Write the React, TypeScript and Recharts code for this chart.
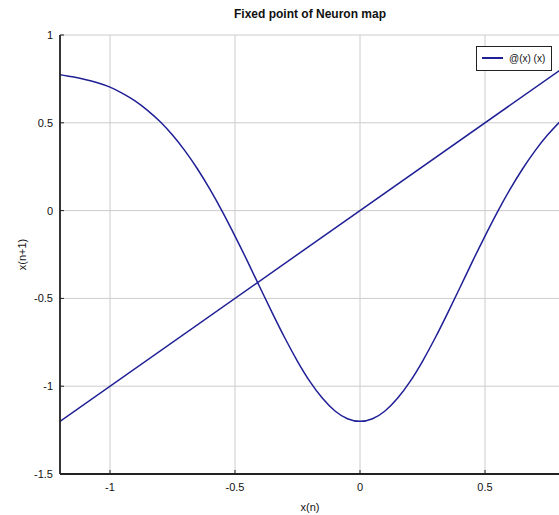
import { LineChart, Line, XAxis, YAxis, CartesianGrid, Legend, Label } from 'recharts'

// x(n) samples of the neuron map (step 0.05) and the matching x(n+1) values
const mapX = [
  -1.2, -1.15, -1.1, -1.05, -1.0, -0.95, -0.9, -0.85, -0.8, -0.75, -0.7, -0.65, -0.6, -0.55,
  -0.5, -0.45, -0.4, -0.35, -0.3, -0.25, -0.2, -0.15, -0.1, -0.05, 0, 0.05, 0.1, 0.15, 0.2,
  0.25, 0.3, 0.35, 0.4, 0.45, 0.5, 0.55, 0.6, 0.65, 0.7, 0.75, 0.8,
]
const mapY = [
  0.774, 0.762, 0.747, 0.728, 0.703, 0.668, 0.625, 0.571, 0.507, 0.43, 0.34, 0.237, 0.121,
  -0.007, -0.145, -0.289, -0.438, -0.585, -0.727, -0.858, -0.974, -1.069, -1.141, -1.185, -1.2,
  -1.185, -1.141, -1.069, -0.974, -0.858, -0.727, -0.585, -0.438, -0.289, -0.145, -0.007,
  0.121, 0.237, 0.34, 0.43, 0.507,
]

// identity line x(n+1) = x(n)
const diagX = [-1.2, 0.8]
const diagY = [-1.2, 0.8]

const xTicks = [-1, -0.5, 0, 0.5]
const yTicks = [-1.5, -1, -0.5, 0, 0.5, 1]

const LINE = '#1f1f96'
const AXIS = '#222'
const GRID = '#cccccc'
const FONT = '"Liberation Sans", Arial, Helvetica, sans-serif'

const mapData = mapX.map((x, i) => ({ x, y: mapY[i] }))
const diagData = diagX.map((x, i) => ({ x, y: diagY[i] }))

function LegendBox({ payload }: any) {
  const items = (payload ?? []).filter((p: any) => p.type !== 'none')
  return (
    <div style={{
      border: `1px solid ${AXIS}`, background: '#fff', padding: '6px 6px 6px 5px',
      display: 'inline-block', fontFamily: FONT, fontSize: 10, color: '#111', lineHeight: '11px',
    }}>
      {items.map((p: any) => (
        <div key={p.value} style={{ display: 'flex', alignItems: 'center', gap: 6 }}>
          <span style={{ width: 21, height: 2, background: p.color, display: 'inline-block' }} />
          <span>{p.value}</span>
        </div>
      ))}
    </div>
  )
}

export default function App() {
  return (
    <div style={{ position: 'absolute', top: 0, left: 0, width: 559, height: 515, overflow: 'hidden', background: '#fff' }}>
      <div style={{
        position: 'absolute', top: 7, left: 60, width: 500, textAlign: 'center',
        fontFamily: FONT, fontWeight: 'bold', fontSize: 12, lineHeight: '14px', color: '#111',
      }}>
        Fixed point of Neuron map
      </div>
      <LineChart width={561} height={515} margin={{ top: 35, right: 1, left: 0, bottom: 0 }}
        style={{ fontFamily: FONT }}>
        <CartesianGrid stroke={GRID} strokeWidth={1} />
        <XAxis type="number" dataKey="x" domain={[-1.2, 0.8]} ticks={xTicks} allowDataOverflow
          interval={0} height={41} axisLine={{ stroke: AXIS, strokeWidth: 1.8 }}
          tickLine={{ stroke: AXIS }} tickSize={-4} tickMargin={13}
          tick={{ fill: '#111', fontSize: 11, fontFamily: FONT }}>
          <Label value="x(n)" position="insideBottom" offset={4}
            style={{ fontSize: 11, fill: '#111', fontFamily: FONT }} />
        </XAxis>
        <XAxis xAxisId="top" orientation="top" type="number" dataKey="x" domain={[-1.2, 0.8]}
          ticks={xTicks} allowDataOverflow interval={0} height={0} tick={false}
          axisLine={{ stroke: AXIS, strokeWidth: 1.8 }} tickLine={{ stroke: AXIS }} tickSize={-4} />
        <YAxis type="number" dataKey="y" domain={[-1.5, 1]} ticks={yTicks} allowDataOverflow
          interval={0} width={60} axisLine={{ stroke: AXIS, strokeWidth: 1.8 }}
          tickLine={{ stroke: AXIS }} tickSize={-4} tickMargin={11}
          tick={{ fill: '#111', fontSize: 11, fontFamily: FONT }}>
          <Label value="x(n+1)" angle={-90} position="insideLeft" offset={22}
            style={{ textAnchor: 'middle', fontSize: 11, fill: '#111', fontFamily: FONT }} />
        </YAxis>
        <YAxis yAxisId="right" orientation="right" type="number" dataKey="y" domain={[-1.5, 1]}
          ticks={yTicks} allowDataOverflow interval={0} width={0} tick={false}
          axisLine={{ stroke: AXIS, strokeWidth: 1.8 }} tickLine={{ stroke: AXIS }} tickSize={-4} />
        <Legend layout="vertical" align="center" verticalAlign="middle" content={<LegendBox />}
          wrapperStyle={{ top: 45, left: 476, width: 'auto', height: 'auto' }} />
        <Line data={mapData} dataKey="y" name="@(x) (x)" type="natural" stroke={LINE}
          strokeWidth={1.5} dot={false} isAnimationActive={false} />
        <Line data={diagData} dataKey="y" name="identity" legendType="none" type="linear"
          stroke={LINE} strokeWidth={1.5} dot={false} isAnimationActive={false} />
      </LineChart>
    </div>
  )
}
